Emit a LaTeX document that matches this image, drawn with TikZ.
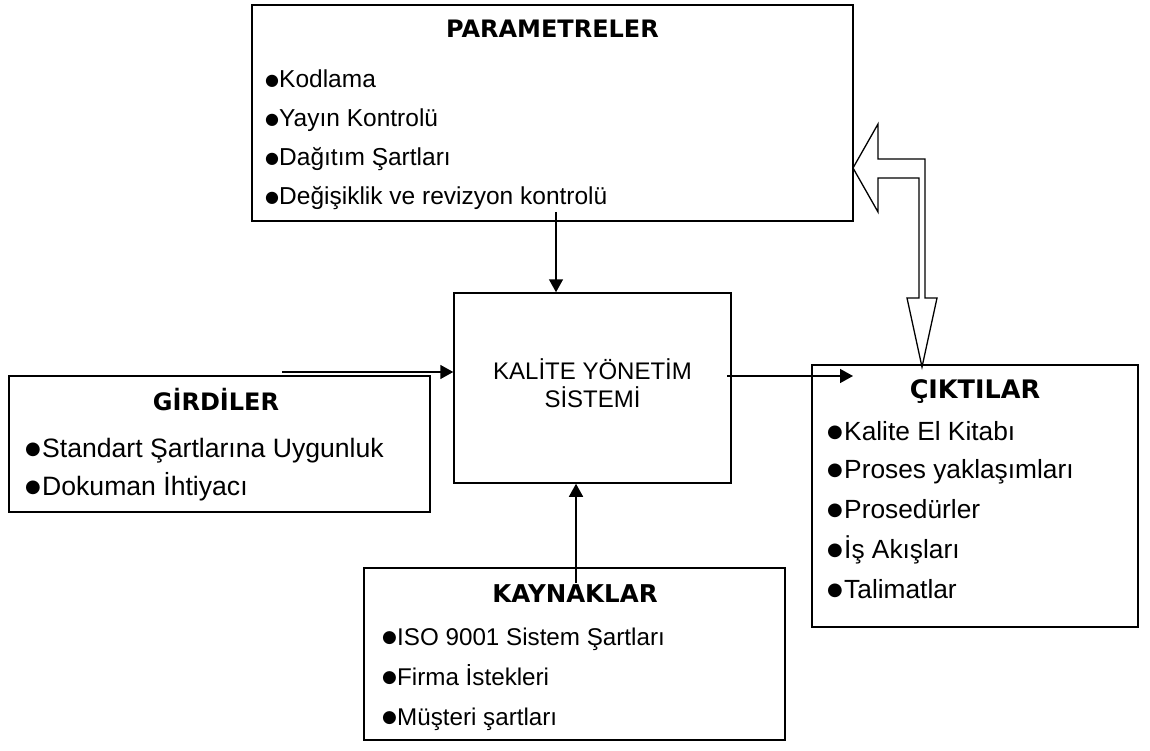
\documentclass[tikz,border=0pt]{standalone}
\usepackage{fontspec}
\setmainfont{Liberation Sans}
\newfontfamily\headfont{DejaVu Sans}
\newfontfamily\symfont{DejaVu Sans}
\usetikzlibrary{arrows.meta}

% round bullet placed in front of each list entry; #1 = room it takes, #2 = glyph size
\newcommand\blt[2]{\makebox[#1][l]{\raisebox{2.5pt}{\symfont\fontsize{#2}{#2}\selectfont ●}}}

\begin{document}
\begin{tikzpicture}[x=1pt,y=-1pt,
  box/.style={draw, line width=1.5pt, inner sep=0pt},
  head/.style={font=\headfont\bfseries\fontsize{24}{28}\selectfont, anchor=base, inner sep=0pt},
  item/.style={anchor=base west, inner sep=0pt, font=\fontsize{24.5}{28}\selectfont},
  bigitem/.style={item, font=\fontsize{26.6}{30}\selectfont},
  arr/.style={line width=1.5pt, -{Triangle[length=13pt,width=14pt]}},
]
\useasboundingbox (0,0) rectangle (1150,751);

% ---- boxes ----
\node[box, minimum width=601pt, minimum height=216pt] (par) at (552.5,113) {};
\node[box, minimum width=277pt, minimum height=190pt] (kal) at (592.5,388) {};
\node[box, minimum width=421pt, minimum height=136pt] (gir) at (219.5,444) {};
\node[box, minimum width=326pt, minimum height=262pt] (cik) at (975,496) {};
\node[box, minimum width=421pt, minimum height=172pt] (kay) at (574.5,654) {};

% ---- PARAMETRELER ----
\node[head] (parT) at (552.5,37.5) {PARAMETRELER};
\node[item] (p1) at (265,88)  {\blt{14pt}{16}Kodlama};
\node[item] (p2) at (265,127) {\blt{14pt}{16}Yayın Kontrolü};
\node[item] (p3) at (265,166) {\blt{14pt}{16}Dağıtım Şartları};
\node[item] (p4) at (265,205) {\blt{14pt}{16}Değişiklik ve revizyon kontrolü};

% ---- centre process ----
\node[item, anchor=base, font=\fontsize{24}{28}\selectfont] (k1) at (592.5,379) {KALİTE YÖNETİM};
\node[item, anchor=base, font=\fontsize{24}{28}\selectfont] (k2) at (592.5,407) {SİSTEMİ};

% ---- GİRDİLER ----
\node[head] (girT) at (216,410) {GİRDİLER};
\node[bigitem] (g1) at (25,457) {\blt{17pt}{18}Standart Şartlarına Uygunluk};
\node[bigitem] (g2) at (25,495) {\blt{17pt}{18}Dokuman İhtiyacı};

% ---- ÇIKTILAR ----
\node[head, font=\headfont\bfseries\fontsize{25.5}{30}\selectfont] (cikT) at (975,398) {ÇIKTILAR};
\node[bigitem, font=\fontsize{26.3}{30}\selectfont] (c1) at (827,440) {\blt{17pt}{18}Kalite El Kitabı};
\node[bigitem, font=\fontsize{26.3}{30}\selectfont] (c2) at (827,478) {\blt{17pt}{18}Proses yaklaşımları};
\node[bigitem, font=\fontsize{26.3}{30}\selectfont] (c3) at (827,518) {\blt{17pt}{18}Prosedürler};
\node[bigitem, font=\fontsize{26.3}{30}\selectfont] (c4) at (827,558) {\blt{17pt}{18}İş Akışları};
\node[bigitem, font=\fontsize{26.3}{30}\selectfont] (c5) at (827,598) {\blt{17pt}{18}Talimatlar};

% ---- KAYNAKLAR ----
\node[head, font=\headfont\bfseries\fontsize{24.5}{28}\selectfont] (kayT) at (575,602) {KAYNAKLAR};
\node[item, font=\fontsize{24.2}{28}\selectfont] (y1) at (382,645) {\blt{15pt}{17}ISO 9001 Sistem Şartları};
\node[item, font=\fontsize{24.2}{28}\selectfont] (y2) at (382,685) {\blt{15pt}{17}Firma İstekleri};
\node[item, font=\fontsize{24.2}{28}\selectfont] (y3) at (382,725) {\blt{15pt}{17}Müşteri şartları};

% ---- connectors ----
\coordinate (pout) at (556,212);
\coordinate (gin)  at (282,372);
\coordinate (kout) at (727,376);
\coordinate (cin)  at (853,376);
\coordinate (yin)  at (576,583);
\draw[arr] (pout) -- (pout |- kal.north);
\draw[arr] (gin) -- (gin -| kal.west);
\draw[arr] (kout) -- (cin);
\draw[arr] (yin) -- (yin |- kal.south);

% ---- hollow feedback arrow between outputs and parameters ----
\draw[line width=1.3pt, line join=miter]
  (853,168) -- (878,124) -- (878,159) -- (925,159) -- (925,298)
  -- (937,298) -- (922,367) -- (907,298) -- (919,298) -- (919,178)
  -- (878,178) -- (878,212) -- cycle;
\end{tikzpicture}
\end{document}
